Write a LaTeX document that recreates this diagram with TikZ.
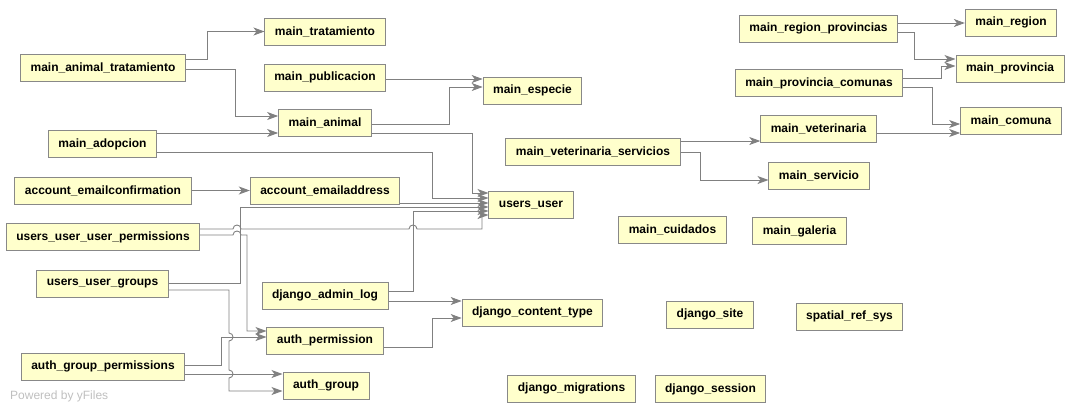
\documentclass[tikz,border=0pt]{standalone}
\usepackage{fontspec}
\setmainfont{Liberation Sans}
\usepackage{tikz}
\usetikzlibrary{arrows.meta}
\definecolor{tblfill}{RGB}{255,255,204}
\definecolor{tbledge}{RGB}{136,136,136}
\definecolor{fkline}{RGB}{128,128,128}

\begin{document}
\begin{tikzpicture}[x=1pt,y=-1pt,
tbl/.style={draw=tbledge,fill=tblfill,line width=1pt,rectangle,minimum height=27pt,inner xsep=10pt,font=\fontsize{12}{14}\selectfont\bfseries},
fk/.style={draw=fkline,line width=0.9pt,-{Stealth[length=11pt,width=8pt,inset=3pt]}}]
\useasboundingbox (0,0) rectangle (1075,413);

\node (mtr) [tbl] at (325,31.5) {main\_tratamiento};
\node (mat) [tbl] at (103,67.5) {main\_animal\_tratamiento};
\node (mpu) [tbl] at (325,77.5) {main\_publicacion};
\node (mes) [tbl] at (532.5,90.5) {main\_especie};
\node (man) [tbl] at (325,122.5) {main\_animal};
\node (mad) [tbl] at (102.5,144) {main\_adopcion};
\node (aec) [tbl] at (103,190.5) {account\_emailconfirmation};
\node (aea) [tbl] at (325,190.5) {account\_emailaddress};
\node (uu) [tbl] at (531,204.5) {users\_user};
\node (uup) [tbl] at (103,237) {users\_user\_user\_permissions};
\node (uug) [tbl] at (102.5,283.5) {users\_user\_groups};
\node (dal) [tbl] at (325,295.5) {django\_admin\_log};
\node (dct) [tbl] at (532.5,312.5) {django\_content\_type};
\node (ape) [tbl] at (325,340.5) {auth\_permission};
\node (agp) [tbl] at (103,366.5) {auth\_group\_permissions};
\node (agr) [tbl] at (326,385.5) {auth\_group};
\node (dmi) [tbl] at (571.5,388.5) {django\_migrations};
\node (dse) [tbl] at (710.5,389) {django\_session};
\node (mcu) [tbl] at (672.5,229.5) {main\_cuidados};
\node (mga) [tbl] at (799.5,231) {main\_galeria};
\node (dsi) [tbl] at (710,314.5) {django\_site};
\node (srs) [tbl] at (849.5,316.5) {spatial\_ref\_sys};
\node (mvs) [tbl] at (593,151.5) {main\_veterinaria\_servicios};
\node (mve) [tbl] at (818.5,128.5) {main\_veterinaria};
\node (mse) [tbl] at (819,175.5) {main\_servicio};
\node (mrp) [tbl] at (818.5,28.5) {main\_region\_provincias};
\node (mre) [tbl] at (1011,22.5) {main\_region};
\node (mpr) [tbl] at (1010,68.5) {main\_provincia};
\node (mpc) [tbl] at (819,83) {main\_provincia\_comunas};
\node (mco) [tbl] at (1011,121) {main\_comuna};
\node (wmark) [anchor=west,inner sep=0pt,text=black!25,font=\fontsize{12}{14}\selectfont] at (10,396) {Powered by yFiles};

\draw[fk] ([yshift=8.5pt]mat.east) -- ++(22,0) |- (mtr.west);
\draw[fk] ([yshift=-1.5pt]mat.east) -- ++(50,0) |- ([yshift=6.5pt]man.west);
\draw[fk] ([yshift=11pt]mad.east) -- ([yshift=-10.5pt]man.west);
\draw[fk] ([yshift=-1.5pt]mpu.east) -- ([yshift=11.5pt]mes.west);
\draw[fk] ([yshift=-1.5pt]man.east) -- ++(78,0) |- ([yshift=3.5pt]mes.west);
\draw[fk] ([yshift=-10.5pt]man.east) -- ++(101,0) |- ([yshift=11.5pt]uu.west);
\draw[fk] ([yshift=-8pt]mad.east) -- ++(275,0) |- ([yshift=6.5pt]uu.west);
\draw[fk] (aec.east) -- (aea.west);
\draw[fk] ([yshift=-12.5pt]aea.east) -- ([yshift=1.5pt]uu.west);
\draw[fk] (uug.east) -- ++(72,0) |- ([yshift=-2.5pt]uu.west);
\draw[fk] ([yshift=4.5pt]dal.east) -- ++(25,0) |- ([yshift=-6.5pt]uu.west);
\draw[fk] ([yshift=8pt]uup.east) -- (233,229) .. controls +(0,-5.3) and +(0,-5.3) .. ++(8,0)
  -- (409,229) .. controls +(0,-5.3) and +(0,-5.3) .. ++(8,0) -- (482,229) |- ([yshift=-10.5pt]uu.west);
\draw[fk] ([yshift=2pt]uup.east) -- (233,235) .. controls +(0,-5.3) and +(0,-5.3) .. ++(8,0)
  -- (247,235) |- ([yshift=9.5pt]ape.west);
\draw[fk] ([yshift=-5.5pt]dal.east) -- ([yshift=11.5pt]dct.west);
\draw[fk] ([yshift=-6.5pt]ape.east) -- ++(49,0) |- ([yshift=-5.5pt]dct.west);
\draw[fk] ([yshift=1.5pt]agp.east) -- ++(36,0) |- ([yshift=3.5pt]ape.west);
\draw[fk] ([yshift=-7.5pt]agp.east) -- ([yshift=11.5pt]agr.west);
\draw[fk] ([yshift=-6.5pt]uug.east) -- (229,290) -- (229,333) .. controls +(5.3,0) and +(5.3,0) .. ++(0,8)
  -- (229,370) .. controls +(5.3,0) and +(5.3,0) .. ++(0,8) |- ([yshift=-5.5pt]agr.west);

\draw[fk] ([yshift=5.5pt]mrp.east) -- ([yshift=-0.5pt]mre.west);
\draw[fk] ([yshift=-3.5pt]mrp.east) -- ++(16,0) |- ([yshift=9.5pt]mpr.west);
\draw[fk] ([yshift=5pt]mpc.east) -- ++(38,0) |- ([yshift=2.5pt]mpr.west);
\draw[fk] ([yshift=-4pt]mpc.east) -- ++(29,0) |- ([yshift=-3pt]mco.west);
\draw[fk] ([yshift=-4.5pt]mve.east) -- ([yshift=-12pt]mco.west);
\draw[fk] ([yshift=10.5pt]mvs.east) -- ([yshift=-12.5pt]mve.west);
\draw[fk] ([yshift=-0.5pt]mvs.east) -- ++(20,0) |- ([yshift=-4.5pt]mse.west);
\end{tikzpicture}
\end{document}
